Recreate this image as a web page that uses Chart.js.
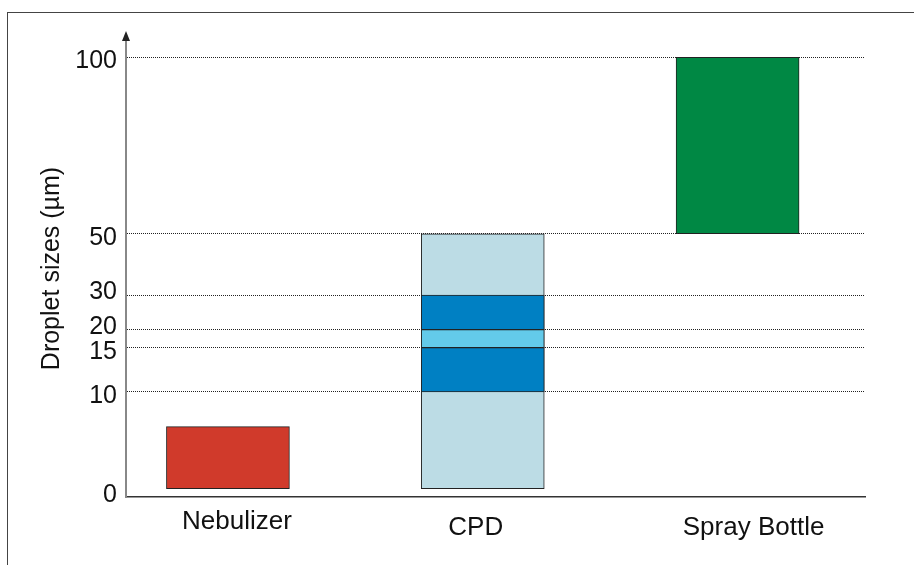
<!DOCTYPE html>
<html>
<head>
<meta charset="utf-8">
<script src="https://cdn.jsdelivr.net/npm/chart.js@4/dist/chart.umd.min.js"></script>
<style>
  html, body { margin: 0; padding: 0; background: #fff; }
  #wrap { position: relative; width: 914px; height: 565px; overflow: hidden; }
  #frame {
    position: absolute; left: 7px; top: 12px; width: 920px; height: 570px;
    border-left: 1px solid #444; border-top: 1px solid #444;
  }
  #chart { position: absolute; left: 0; top: 0; }
</style>
</head>
<body>
<div id="wrap">
  <div id="frame"></div>
  <canvas id="chart" width="914" height="565"></canvas>
</div>
<script>
// Dados do gráfico
const categories = ['Nebulizer', 'CPD', 'Spray Bottle'];
const yTicks = [0, 10, 15, 20, 30, 50, 100];
const nebulizerRange = [0.8, 6.7];
const cpdRange = [0.8, 50];
const cpdCoreRanges = [[10, 15], [20, 30]];
const cpdPeakRange = [15, 20];
const sprayRange = [50, 100];

// Escala linear por partes (o eixo original não é linear)
class PiecewiseScale extends Chart.LinearScale {
  toDecimal(value) {
    const vals = this.options.stopValues;
    const fr = this.options.stopFractions;
    if (value <= vals[0]) return fr[0];
    for (let i = 1; i < vals.length; i++) {
      if (value <= vals[i]) {
        const t = (value - vals[i - 1]) / (vals[i] - vals[i - 1]);
        return fr[i - 1] + t * (fr[i] - fr[i - 1]);
      }
    }
    return fr[fr.length - 1];
  }
  getPixelForValue(value) {
    if (value === null || isNaN(value)) return NaN;
    return this.getPixelForDecimal(this.toDecimal(value));
  }
  getValueForPixel(pixel) {
    const d = this.getDecimalForPixel(pixel);
    const vals = this.options.stopValues;
    const fr = this.options.stopFractions;
    for (let i = 1; i < fr.length; i++) {
      if (d <= fr[i]) {
        const t = (d - fr[i - 1]) / (fr[i] - fr[i - 1]);
        return vals[i - 1] + t * (vals[i] - vals[i - 1]);
      }
    }
    return vals[vals.length - 1];
  }
  // pequeno deslocamento dos rótulos, como no original
  _computeLabelItems(chartArea) {
    const items = super._computeLabelItems(chartArea);
    const nudge = this.options.labelNudge || [];
    items.forEach((it, i) => {
      if (!nudge[i]) return;
      it.options.translation[0] += nudge[i][0];
      it.options.translation[1] += nudge[i][1];
    });
    return items;
  }
}
PiecewiseScale.id = 'piecewise';
PiecewiseScale.defaults = Chart.LinearScale.defaults;
Chart.register(PiecewiseScale);

// Seta no topo do eixo y
const axisArrow = {
  id: 'axisArrow',
  afterDraw(chart) {
    const ctx = chart.ctx;
    const x = chart.chartArea.left;
    const top = chart.chartArea.top;
    ctx.save();
    ctx.fillStyle = '#222';
    ctx.beginPath();
    ctx.moveTo(x, top - 9);
    ctx.lineTo(x - 4, top + 1);
    ctx.lineTo(x + 4, top + 1);
    ctx.closePath();
    ctx.fill();
    ctx.restore();
  }
};

const font = 'Liberation Sans, Arial, Helvetica, sans-serif';
const edge = '#222';
const bar = (data, color) => ({
  data: data,
  backgroundColor: color,
  borderColor: edge,
  borderWidth: 1,
  borderSkipped: false,
  barThickness: 123,
  grouped: false
});

// o primeiro dataset é desenhado por cima
new Chart(document.getElementById('chart'), {
  type: 'bar',
  data: {
    datasets: [
      bar([{ x: 0, y: nebulizerRange }], '#D03A2B'),
      bar(cpdCoreRanges.map(r => ({ x: 1, y: r })), '#0080C3'),
      bar([{ x: 1, y: cpdPeakRange }], '#63CAEA'),
      bar([{ x: 1, y: cpdRange }], '#BCDCE5'),
      bar([{ x: 2, y: sprayRange }], '#008844')
    ]
  },
  options: {
    responsive: false,
    animation: false,
    layout: { padding: { left: 0, right: 49, top: 40, bottom: 0 } },
    plugins: { legend: { display: false }, tooltip: { enabled: false } },
    scales: {
      x: {
        type: 'piecewise',
        offset: false,
        min: -0.4,
        max: 2.5,
        stopValues: [-0.4, 2.5],
        stopFractions: [0, 1],
        labelNudge: [[9, -6], [-7, 0], [16, 0]],
        afterBuildTicks: s => { s.ticks = categories.map((c, i) => ({ value: i })); },
        afterFit: s => { s.height = 68; },
        grid: { display: false, drawTicks: false },
        border: { color: '#333', width: 1.5 },
        ticks: {
          callback: v => categories[v],
          autoSkip: false,
          maxRotation: 0,
          padding: 15,
          color: '#111',
          font: { family: font, size: 26 }
        }
      },
      y: {
        type: 'piecewise',
        min: 0,
        max: 105,
        stopValues: [0, 10, 15, 20, 30, 50, 100, 105],
        stopFractions: [0, 0.2298, 0.3267, 0.3661, 0.4420, 0.5761, 0.9621, 1],
        labelNudge: [[0, -2], [0, 4], [0, 4], [0, -3], [0, -3], [0, 4], [0, 4]],
        afterBuildTicks: s => { s.ticks = yTicks.map(v => ({ value: v })); },
        afterFit: s => { s.width = 126; },
        grid: {
          drawTicks: false,
          lineWidth: 1,
          color: ctx => (ctx.tick && ctx.tick.value === 0) ? 'rgba(0,0,0,0)' : '#222'
        },
        border: { color: '#888', width: 2, dash: [1, 1] },
        ticks: {
          padding: 9,
          color: '#111',
          font: { family: font, size: 25 }
        },
        title: {
          display: true,
          text: 'Droplet sizes (µm)',
          color: '#111',
          padding: { top: 37, bottom: 0 },
          font: { family: font, size: 25 }
        }
      }
    }
  },
  plugins: [axisArrow]
});
</script>
</body>
</html>
